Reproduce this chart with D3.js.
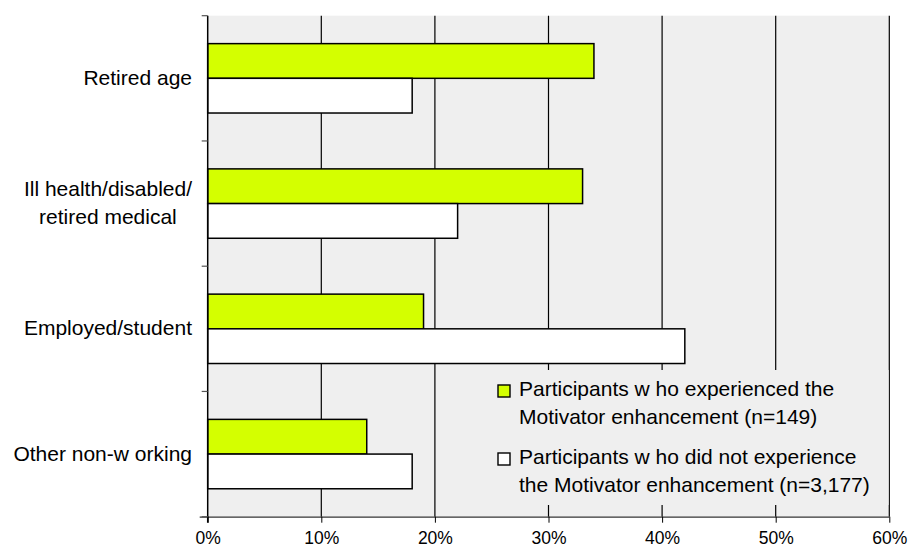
<!DOCTYPE html>
<html><head><meta charset="utf-8">
<script src="https://cdn.jsdelivr.net/npm/d3@7"></script>
<style>body{margin:0;background:#fff;}svg{display:block;}text{font-family:"Liberation Sans",Arial,sans-serif;fill:#000;}</style>
</head><body>
<svg id="c" width="909" height="549"></svg>
<script>
const categories = ["Retired age", "Ill health/disabled/\nretired medical", "Employed/student", "Other non-w orking"];
const seriesNames = ["Participants w ho experienced the\nMotivator enhancement (n=149)", "Participants w ho did not experience\nthe Motivator enhancement (n=3,177)"];
const withMotivator = [34, 33, 19, 14];
const withoutMotivator = [18, 22, 42, 18];
const xTicks = [0, 10, 20, 30, 40, 50, 60];
const seriesColors = ["#d4ff00", "#ffffff"];

const svg = d3.select("#c");
const m = {l: 207.7, r: 889.3, t: 15.7, b: 516.7};
const x = d3.scaleLinear().domain([0, 60]).range([m.l, m.r]);
const y = d3.scaleBand().domain(categories).range([m.t, m.b]).paddingInner(0.446).paddingOuter(0.223);
const ys = d3.scaleBand().domain([0, 1]).range([0, y.bandwidth()]);

svg.append("rect").attr("x", m.l).attr("y", m.t).attr("width", m.r - m.l).attr("height", m.b - m.t).attr("fill", "#efefef");

// gridlines
svg.append("g").selectAll("line").data(xTicks.slice(1)).join("line")
  .attr("x1", d => x(d)).attr("x2", d => x(d)).attr("y1", m.t).attr("y2", m.b)
  .attr("stroke", "#000").attr("stroke-width", 1.2);

const data = categories.map((c, i) => ({c, v: [withMotivator[i], withoutMotivator[i]]}));
const g = svg.append("g").selectAll("g").data(data).join("g").attr("transform", d => `translate(0,${y(d.c)})`);
g.selectAll("rect").data(d => d.v.map((v, k) => ({v, k}))).join("rect")
  .attr("x", x(0)).attr("y", d => ys(d.k)).attr("width", d => x(d.v) - x(0)).attr("height", ys.bandwidth())
  .attr("fill", d => seriesColors[d.k]).attr("stroke", "#000").attr("stroke-width", 1.5);

// legend
const lg = svg.append("g");
lg.append("rect").attr("x", 483).attr("y", 370).attr("width", m.r - 483 - 0.7).attr("height", 135).attr("fill", "#efefef");
const legY = [396, 464];
seriesNames.forEach((s, k) => {
  lg.append("rect").attr("x", 498).attr("y", legY[k] - 11).attr("width", 12).attr("height", 12)
    .attr("fill", seriesColors[k]).attr("stroke", "#000").attr("stroke-width", 1.4);
  const t = lg.append("text").attr("x", 519).attr("y", legY[k]).style("font-size", "21px");
  s.split("\n").forEach((ln, j) => t.append("tspan").attr("x", 519).attr("dy", j ? 28 : 0).text(ln));
});

// axes
const xa = svg.append("g").attr("transform", `translate(0,${m.b})`)
  .call(d3.axisBottom(x).tickValues(xTicks).tickFormat(d => d + "%").tickSize(6).tickPadding(18));
xa.select(".domain").attr("stroke", "#333").attr("stroke-width", 1.3).attr("d", `M${m.l - 8},0.5H${m.r}`);
xa.selectAll(".tick line").attr("stroke", "#000");
xa.selectAll("text").style("font-size", "17.5px").attr("fill", "#000").attr("dy", "0").attr("y", 27);

const yTickPos = [m.t, ...categories.map(c => y(c) + y.bandwidth() + y.step() * y.paddingOuter())];
svg.append("line").attr("x1", m.l).attr("x2", m.l).attr("y1", m.t).attr("y2", m.b + 6).attr("stroke", "#000").attr("stroke-width", 1.5);
svg.append("g").selectAll("line").data(yTickPos).join("line")
  .attr("x1", m.l - 6).attr("x2", m.l).attr("y1", d => d).attr("y2", d => d).attr("stroke", "#555").attr("stroke-width", 1.2);

categories.forEach(c => {
  const lines = c.split("\n");
  const cy = y(c) + y.bandwidth() / 2;
  const t = svg.append("text").style("font-size", "21px").attr("text-anchor", "middle");
  const lh = 28;
  lines.forEach((ln, j) => t.append("tspan").attr("y", cy + (j - (lines.length - 1) / 2) * lh + 6.5).text(ln));
  let w = 0;
  t.selectAll("tspan").each(function () { w = Math.max(w, this.getComputedTextLength()); });
  t.selectAll("tspan").attr("x", 192 - w / 2);
});
</script>
</body></html>
